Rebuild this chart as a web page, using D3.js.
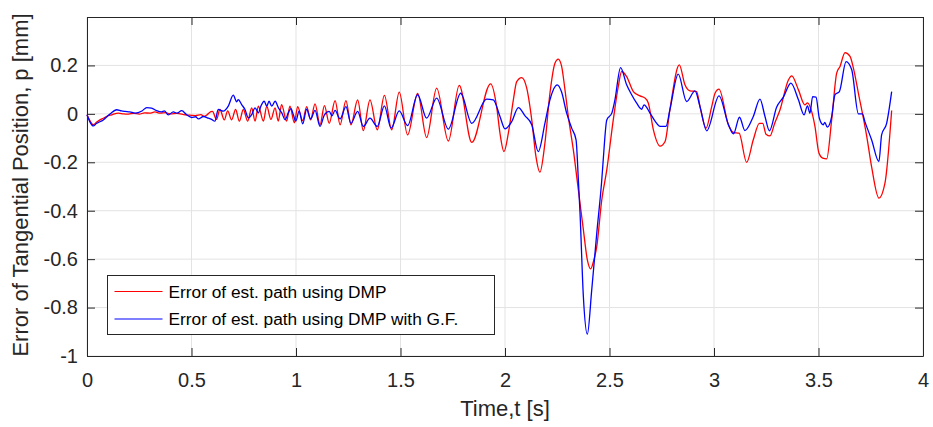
<!DOCTYPE html>
<html>
<head>
<meta charset="utf-8">
<script src="https://cdn.jsdelivr.net/npm/d3@7"></script>
<style>
  html, body { margin: 0; padding: 0; background: #fff; }
  svg { display: block; font-family: "Liberation Sans", Arial, sans-serif; }
</style>
</head>
<body>
<svg id="chart" width="933" height="427"></svg>
<script>
// Tangential position error over time, two estimation methods.
const xTicks = [0, 0.5, 1, 1.5, 2, 2.5, 3, 3.5, 4];
const yTicks = [-1, -0.8, -0.6, -0.4, -0.2, 0, 0.2];
const xLabel = "Time,t [s]";
const yLabel = "Error of Tangential Position, p [mm]";
const seriesNames = ["Error of est. path using DMP", "Error of est. path using DMP with G.F."];
const seriesColors = ["#ff0000", "#0000ff"];

// time [s], error [mm] — DMP
const dmpT = [0.000,0.015,0.030,0.045,0.062,0.078,0.095,0.118,0.150,0.175,0.198,0.225,0.250,0.275,0.300,0.325,0.350,0.375,0.400,0.430,0.470,0.500,0.518,0.545,0.560,0.575,0.585,0.600,0.620,0.636,0.657,0.673,0.692,0.711,0.729,0.748,0.769,0.788,0.804,0.820,0.844,0.860,0.880,0.900,0.915,0.931,0.955,0.971,0.992,1.008,1.032,1.051,1.070,1.091,1.115,1.136,1.159,1.187,1.211,1.239,1.263,1.295,1.322,1.354,1.389,1.423,1.458,1.494,1.534,1.582,1.625,1.673,1.729,1.781,1.841,1.931,1.960,1.976,1.995,2.016,2.040,2.056,2.080,2.104,2.128,2.148,2.167,2.191,2.215,2.239,2.255,2.271,2.287,2.303,2.327,2.351,2.375,2.394,2.410,2.423,2.439,2.463,2.487,2.518,2.542,2.558,2.582,2.614,2.646,2.670,2.686,2.710,2.742,2.766,2.789,2.834,2.861,2.885,2.917,2.933,2.962,2.989,3.005,3.024,3.069,3.093,3.120,3.156,3.188,3.217,3.233,3.249,3.268,3.290,3.316,3.356,3.372,3.404,3.435,3.447,3.467,3.483,3.502,3.520,3.539,3.563,3.587,3.603,3.627,3.651,3.667,3.691,3.731,3.754,3.789,3.818,3.850];
const dmpV = [-0.004,-0.030,-0.045,-0.035,-0.025,-0.018,-0.010,-0.004,0.003,0.000,-0.001,0.002,-0.001,0.004,0.003,0.008,0.003,0.005,0.000,0.002,-0.004,-0.006,-0.007,-0.003,-0.010,-0.004,0.005,0.010,-0.023,0.018,-0.025,0.012,-0.025,0.018,-0.030,0.018,-0.030,0.025,-0.030,0.032,-0.030,0.032,-0.023,0.025,-0.030,0.038,-0.030,0.032,-0.037,0.030,-0.028,0.030,-0.025,0.041,-0.045,0.034,-0.039,0.055,-0.045,0.055,-0.045,0.058,-0.069,0.058,-0.066,0.076,-0.066,0.090,-0.087,0.085,-0.098,0.106,-0.112,0.118,-0.118,0.124,0.030,-0.080,-0.156,-0.080,0.058,0.133,0.150,0.106,-0.025,-0.176,-0.241,-0.121,0.085,0.209,0.226,0.196,0.099,-0.011,-0.149,-0.314,-0.479,-0.603,-0.640,-0.610,-0.548,-0.355,-0.231,-0.025,0.113,0.175,0.154,0.092,0.074,0.065,0.044,-0.066,-0.133,-0.114,0.017,0.202,0.120,0.095,0.092,0.030,-0.059,0.030,0.085,0.102,-0.045,-0.077,-0.080,-0.200,-0.107,-0.039,-0.039,-0.084,-0.091,-0.040,0.017,0.140,0.157,0.099,0.037,0.045,0.010,-0.052,-0.162,-0.183,-0.186,-0.025,0.168,0.196,0.253,0.237,0.189,0.085,-0.094,-0.218,-0.348,-0.286,0.014];

// time [s], error [mm] — DMP with G.F.
const gfT = [0.000,0.015,0.030,0.045,0.078,0.110,0.142,0.165,0.182,0.205,0.230,0.263,0.286,0.309,0.333,0.357,0.370,0.389,0.413,0.430,0.453,0.477,0.501,0.520,0.533,0.557,0.581,0.596,0.612,0.628,0.652,0.676,0.700,0.716,0.724,0.740,0.756,0.772,0.788,0.804,0.820,0.832,0.848,0.860,0.871,0.884,0.900,0.916,0.932,0.948,0.963,0.976,0.987,0.999,1.015,1.032,1.051,1.070,1.091,1.115,1.136,1.159,1.172,1.187,1.211,1.239,1.263,1.295,1.322,1.354,1.389,1.423,1.455,1.494,1.534,1.582,1.625,1.673,1.729,1.788,1.841,1.912,1.944,1.976,2.000,2.032,2.064,2.096,2.128,2.159,2.191,2.215,2.250,2.270,2.295,2.319,2.340,2.351,2.359,2.375,2.394,2.415,2.439,2.463,2.470,2.487,2.511,2.526,2.553,2.582,2.606,2.630,2.654,2.665,2.694,2.718,2.742,2.770,2.789,2.829,2.869,2.909,2.933,2.965,3.024,3.069,3.093,3.122,3.148,3.188,3.220,3.244,3.265,3.300,3.332,3.368,3.404,3.431,3.447,3.459,3.472,3.488,3.504,3.523,3.530,3.542,3.563,3.579,3.600,3.632,3.659,3.691,3.710,3.722,3.754,3.789,3.802,3.826,3.850];
const gfV = [-0.004,-0.035,-0.050,-0.040,-0.025,-0.001,0.017,0.012,0.010,0.008,0.003,0.012,0.026,0.024,0.013,0.008,0.012,-0.004,0.008,0.003,0.013,-0.004,-0.015,-0.012,-0.021,-0.011,-0.018,-0.023,-0.030,0.018,0.011,0.032,0.077,0.050,0.059,0.038,0.018,-0.017,-0.003,0.025,0.004,0.032,0.052,0.032,0.052,0.032,0.052,0.025,0.004,-0.024,0.004,0.022,-0.003,-0.030,0.011,-0.041,0.019,-0.021,0.014,-0.052,-0.004,0.010,-0.008,0.014,-0.021,0.030,-0.039,0.010,-0.052,-0.018,-0.052,0.033,-0.059,0.012,-0.049,0.079,-0.018,0.065,-0.063,0.085,-0.039,0.061,0.058,-0.011,-0.062,-0.032,0.026,-0.008,-0.045,-0.156,-0.039,0.058,0.120,0.092,0.003,-0.059,-0.107,-0.273,-0.410,-0.755,-0.910,-0.727,-0.493,-0.273,-0.190,-0.025,0.003,0.058,0.191,0.120,0.079,0.044,0.019,0.037,0.003,-0.030,-0.052,-0.052,0.017,0.164,0.051,0.095,0.030,-0.070,0.074,-0.045,-0.083,-0.014,-0.069,-0.011,0.061,-0.011,-0.070,0.028,0.069,0.127,0.058,-0.004,0.033,0.003,0.071,0.069,-0.018,-0.045,-0.035,-0.055,-0.011,0.079,0.092,0.216,0.182,0.000,0.000,-0.032,-0.107,-0.197,-0.087,-0.039,0.092];

const W = 933, H = 427;
const margin = { left: 87, top: 17, right: 10, bottom: 71 };
const innerW = W - margin.left - margin.right;
const innerH = H - margin.top - margin.bottom;
const axisColor = "#262626";

const svg = d3.select("#chart");
const g = svg.append("g").attr("transform", `translate(${margin.left},${margin.top})`);

const x = d3.scaleLinear().domain([0, 4]).range([0, innerW]);
const y = d3.scaleLinear().domain([-1, 0.4]).range([innerH, 0]);

// grid
g.append("g").selectAll("line").data(xTicks).join("line")
  .attr("x1", d => x(d)).attr("x2", d => x(d))
  .attr("y1", 0).attr("y2", innerH)
  .attr("stroke", "#e3e3e3").attr("stroke-width", 1);
g.append("g").selectAll("line").data(yTicks).join("line")
  .attr("x1", 0).attr("x2", innerW)
  .attr("y1", d => y(d)).attr("y2", d => y(d))
  .attr("stroke", "#e3e3e3").attr("stroke-width", 1);

// data lines
const series = [
  { name: seriesNames[0], color: seriesColors[0], pts: dmpT.map((t, i) => [t, dmpV[i]]) },
  { name: seriesNames[1], color: seriesColors[1], pts: gfT.map((t, i) => [t, gfV[i]]) }
];
const line = d3.line().x(d => x(d[0])).y(d => y(d[1])).curve(d3.curveMonotoneX);
g.append("g").selectAll("path").data(series).join("path")
  .attr("d", d => line(d.pts))
  .attr("fill", "none")
  .attr("stroke", d => d.color)
  .attr("stroke-width", 1.3)
  .attr("stroke-linejoin", "round");

// axes with inward ticks on all four sides; plain hyphen for negatives
const tickLen = 8;
const fmt = d => String(d);
const xAxis = d3.axisBottom(x).tickValues(xTicks).tickFormat(fmt).tickSizeInner(-tickLen).tickSizeOuter(0).tickPadding(17);
const yAxis = d3.axisLeft(y).tickValues(yTicks).tickFormat(fmt).tickSizeInner(-tickLen).tickSizeOuter(0).tickPadding(9);
const xTop = d3.axisTop(x).tickValues(xTicks).tickFormat("").tickSizeInner(-tickLen).tickSizeOuter(0);
const yRight = d3.axisRight(y).tickValues(yTicks).tickFormat("").tickSizeInner(-tickLen).tickSizeOuter(0);

function styleAxis(sel) {
  sel.select(".domain").attr("stroke", axisColor);
  sel.selectAll(".tick line").attr("stroke", axisColor);
  sel.selectAll(".tick text").attr("fill", axisColor)
    .style("font-family", "'Liberation Sans', Arial, sans-serif").style("font-size", "20px");
}
g.append("g").attr("transform", `translate(0,${innerH})`).call(xAxis).call(styleAxis);
g.append("g").call(yAxis).call(styleAxis);
g.append("g").call(xTop).call(styleAxis);
g.append("g").attr("transform", `translate(${innerW},0)`).call(yRight).call(styleAxis);

// axis titles
svg.append("text")
  .attr("x", margin.left + innerW / 2).attr("y", 416)
  .attr("text-anchor", "middle").attr("fill", axisColor)
  .style("font-size", "22px").text(xLabel);
svg.append("text")
  .attr("transform", `translate(28,185) rotate(-90)`)
  .attr("text-anchor", "middle").attr("fill", axisColor)
  .style("font-size", "22px").text(yLabel);

// legend
const lg = svg.append("g").attr("transform", "translate(107.5,275.5)");
lg.append("rect").attr("width", 387).attr("height", 59)
  .attr("fill", "#fff").attr("stroke", axisColor).attr("stroke-width", 1);
series.forEach((s, i) => {
  const ry = 16 + i * 27.5;
  lg.append("line").attr("x1", 7).attr("x2", 55).attr("y1", ry).attr("y2", ry)
    .attr("stroke", s.color).attr("stroke-width", 1);
  lg.append("text").attr("x", 61).attr("y", ry).attr("dy", "0.35em")
    .attr("fill", "#000").style("font-size", "17.3px").text(s.name);
});
</script>
</body>
</html>
